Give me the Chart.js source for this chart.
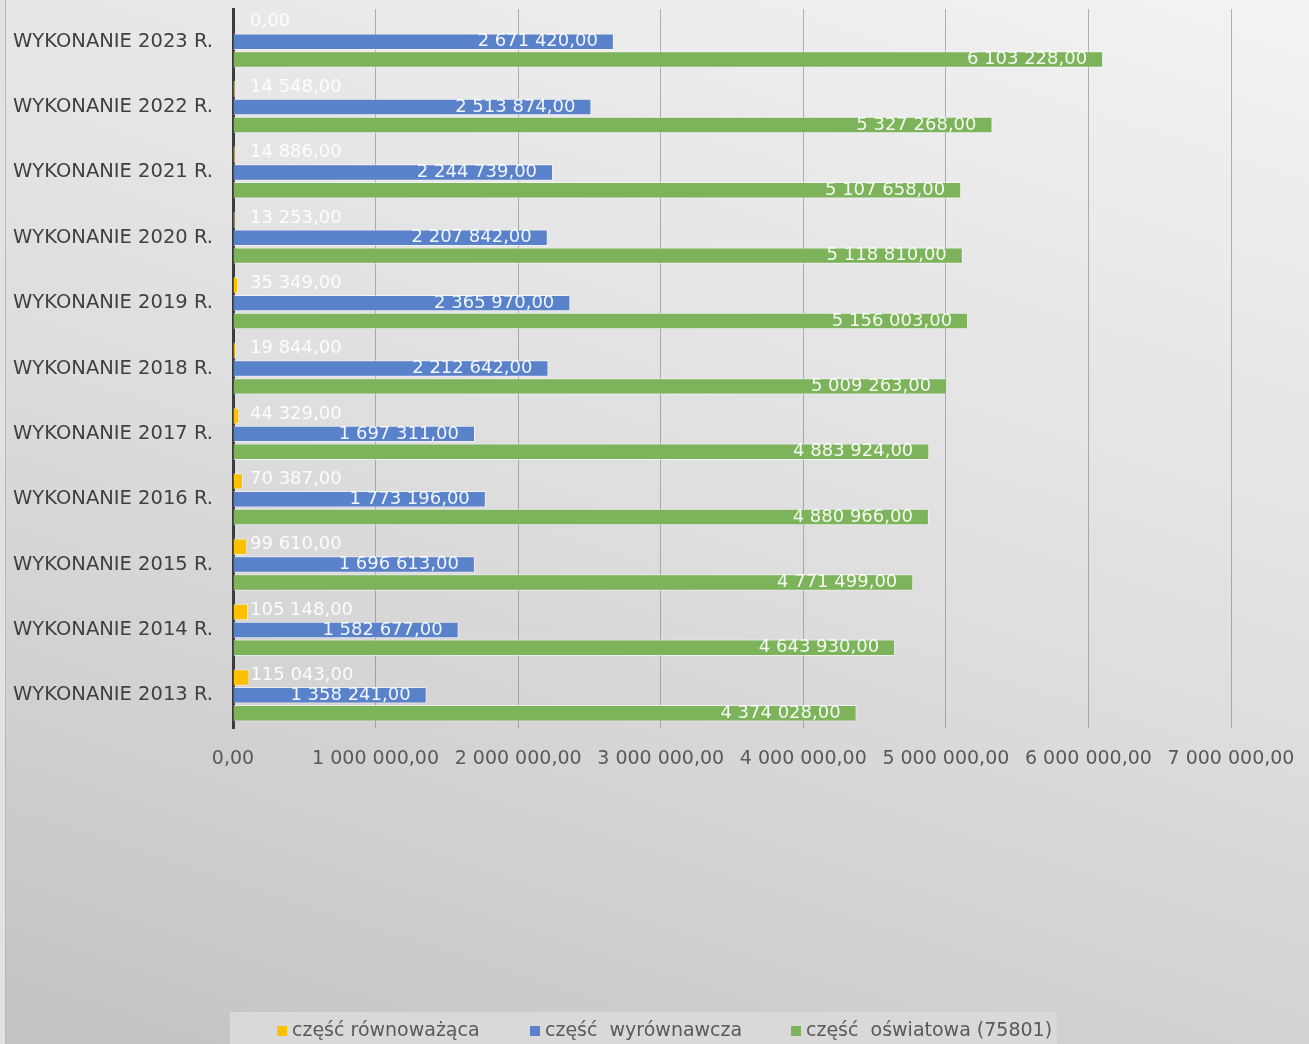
<!DOCTYPE html>
<html>
<head>
<meta charset="utf-8">
<script src="https://cdn.jsdelivr.net/npm/chart.js@4.4.1/dist/chart.umd.min.js"></script>
<style>
  html, body { margin: 0; padding: 0; background: #e2e2e2; }
  #wrap {
    position: relative; width: 1309px; height: 1044px; overflow: hidden;
  }
  #bg {
    position: absolute; left: 5px; top: 0; right: 0; bottom: 0;
    border-left: 1px solid #b9b9b9;
    background: linear-gradient(198deg, #f3f3f3 0%, #dedede 50%, #c3c3c3 100%);
  }
  canvas { position: absolute; left: 0; top: 0; }
</style>
</head>
<body>
<div id="wrap">
  <div id="bg"></div>
  <canvas id="chart" width="1309" height="1044"></canvas>
</div>
<script>
// --- Data ---
const categories = [
  'WYKONANIE 2023 R.', 'WYKONANIE 2022 R.', 'WYKONANIE 2021 R.', 'WYKONANIE 2020 R.',
  'WYKONANIE 2019 R.', 'WYKONANIE 2018 R.', 'WYKONANIE 2017 R.', 'WYKONANIE 2016 R.',
  'WYKONANIE 2015 R.', 'WYKONANIE 2014 R.', 'WYKONANIE 2013 R.'
];
const seriesNames = ['część równoważąca', 'część  wyrównawcza', 'część  oświatowa (75801)'];
const rownowazaca = [0, 14548, 14886, 13253, 35349, 19844, 44329, 70387, 99610, 105148, 115043];
const wyrownawcza = [2671420, 2513874, 2244739, 2207842, 2365970, 2212642, 1697311, 1773196, 1696613, 1582677, 1358241];
const oswiatowa = [6103228, 5327268, 5107658, 5118810, 5156003, 5009263, 4883924, 4880966, 4771499, 4643930, 4374028];
const xTicks = [0, 1000000, 2000000, 3000000, 4000000, 5000000, 6000000, 7000000];

const colors = ['#ffc000', '#5a82cb', '#7db35a'];
const FONT = '"DejaVu Sans", "Open Sans", sans-serif';

// 1234567 -> "1 234 567,00"
function fmt(v) {
    const parts = Number(v).toFixed(2).split('.');
    return parts[0].replace(/\B(?=(\d{3})+(?!\d))/g, ' ') + ',' + parts[1];
}

// --- Value labels on the bars ---
const valueLabels = {
    id: 'valueLabels',
    afterDatasetsDraw(chart) {
        const ctx = chart.ctx;
        const x0 = chart.scales.x.getPixelForValue(0);
        ctx.save();
        ctx.font = '18px ' + FONT;
        ctx.fillStyle = 'rgba(255,255,255,0.92)';
        ctx.textBaseline = 'middle';
        chart.data.datasets.forEach((ds, i) => {
            const meta = chart.getDatasetMeta(i);
            meta.data.forEach((bar, j) => {
                const text = fmt(ds.data[j]);
                if (i === 0) {
                    ctx.textAlign = 'left';
                    ctx.fillText(text, Math.max(bar.x + 1, x0 + 17), bar.y - 2);
                } else {
                    ctx.textAlign = 'right';
                    ctx.fillText(text, bar.x - 16, bar.y);
                }
            });
        });
        ctx.restore();
    }
};

// --- Legend box at the bottom ---
const bottomLegend = {
    id: 'bottomLegend',
    afterDraw(chart) {
        const ctx = chart.ctx;
        ctx.save();
        ctx.fillStyle = '#d9d9d9';
        ctx.fillRect(230, 1012, 827, 40);
        ctx.font = '19px ' + FONT;
        ctx.textBaseline = 'middle';
        ctx.textAlign = 'left';
        const starts = [277, 530, 791];
        chart.data.datasets.forEach((ds, i) => {
            const x = starts[i];
            ctx.fillStyle = ds.backgroundColor;
            ctx.fillRect(x, 1026, 10, 10);
            ctx.fillStyle = '#595959';
            ctx.fillText(ds.label, x + 15, 1031);
        });
        ctx.restore();
    }
};

new Chart(document.getElementById('chart'), {
    type: 'bar',
    data: {
        labels: categories,
        datasets: [
            { label: seriesNames[0], data: rownowazaca, backgroundColor: colors[0] },
            { label: seriesNames[1], data: wyrownawcza, backgroundColor: colors[1] },
            { label: seriesNames[2], data: oswiatowa, backgroundColor: colors[2] }
        ].map(d => Object.assign(d, {
            borderColor: 'rgba(255,255,255,0.55)',
            borderWidth: 1,
            categoryPercentage: 0.82,
            barPercentage: 0.92
        }))
    },
    options: {
        indexAxis: 'y',
        responsive: false,
        animation: false,
        layout: { padding: { top: 9, right: 78, left: 0, bottom: 0 } },
        plugins: {
            legend: { display: false },
            tooltip: { enabled: false }
        },
        scales: {
            x: {
                min: 0,
                max: 7000000,
                afterBuildTicks(scale) {
                    scale.ticks = xTicks.map(v => ({ value: v }));
                },
                afterFit(scale) {
                    scale.height = 316;
                    scale.paddingLeft = 0;
                    scale.paddingRight = 0;
                },
                grid: {
                    drawTicks: false,
                    color: ctx => ctx.tick && ctx.tick.value === 0 ? 'rgba(0,0,0,0)' : 'rgba(120,120,120,0.55)',
                    lineWidth: 1
                },
                border: { display: false },
                ticks: {
                    padding: 20,
                    color: '#595959',
                    font: { family: FONT, size: 19 },
                    maxRotation: 0,
                    callback: v => fmt(v)
                }
            },
            y: {
                afterFit(scale) {
                    scale.width = 233;
                    scale.paddingTop = 0;
                    scale.paddingBottom = 0;
                },
                grid: { display: false, drawTicks: false },
                border: { display: true, color: '#3c3c3c', width: 3 },
                ticks: {
                    padding: 20,
                    color: '#404040',
                    font: { family: FONT, size: 19.5 }
                }
            }
        }
    },
    plugins: [valueLabels, bottomLegend]
});
</script>
</body>
</html>
